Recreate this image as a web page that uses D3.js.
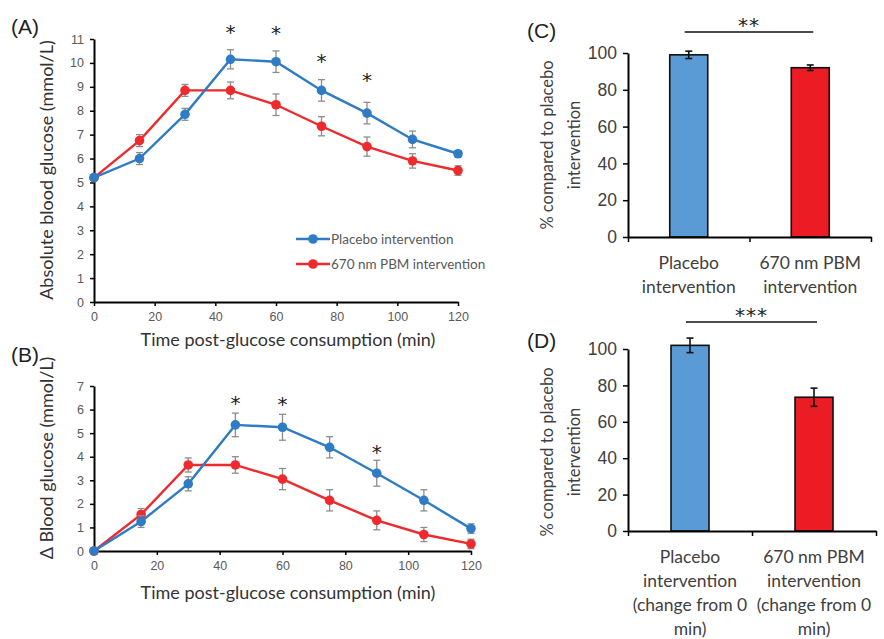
<!DOCTYPE html>
<html lang="en">
<head>
<meta charset="utf-8">
<title>Blood glucose</title>
<script src="https://cdn.jsdelivr.net/npm/d3@7"></script>
<style>
    body { margin: 0; background: #fff; }
    svg { font-family: Lato, "Open Sans", sans-serif; }
    .tick text { fill: #595959; }
    .bars .tick text { fill: #404040; }
</style>
</head>
<body>
<div id="chart"></div>
<script>
var WIDTH = 884;
var HEIGHT = 639;

// time points (min)
var times = [0, 15, 30, 45, 60, 75, 90, 105, 120];

// (A) absolute blood glucose
var absPlacebo = [5.2, 6.0, 7.85, 10.15, 10.05, 8.85, 7.9, 6.8, 6.2];
var absPlaceboErr = [0.1, 0.25, 0.25, 0.4, 0.45, 0.45, 0.45, 0.35, 0.12];
var absPbm = [5.2, 6.75, 8.85, 8.85, 8.25, 7.35, 6.5, 5.9, 5.5];
var absPbmErr = [0.1, 0.25, 0.25, 0.35, 0.45, 0.4, 0.4, 0.3, 0.2];
var absStars = [[45, 11.5], [60, 11.45], [75, 10.3], [90, 9.5]];

// (B) change from 0 min
var dPlacebo = [0, 1.25, 2.85, 5.35, 5.25, 4.4, 3.3, 2.15, 0.95];
var dPlaceboErr = [0, 0.25, 0.3, 0.5, 0.55, 0.45, 0.55, 0.45, 0.2];
var dPbm = [0, 1.55, 3.65, 3.65, 3.05, 2.15, 1.3, 0.7, 0.3];
var dPbmErr = [0, 0.25, 0.3, 0.35, 0.45, 0.45, 0.4, 0.3, 0.2];
var dStars = [[45, 6.5], [60, 6.45], [90, 4.4]];

// (C) and (D) bars
var barCats = ["placebo", "pbm"];
var cValues = [99, 92];
var cErr = [2, 1.5];
var cLabels = [["Placebo", "intervention"], ["670 nm PBM", "intervention"]];
var dValues = [102, 73.5];
var dErr = [4, 5];
var dLabels = [["Placebo", "intervention", "(change from 0", "min)"],
               ["670 nm PBM", "intervention", "(change from 0", "min)"]];

var seriesNames = ["Placebo intervention", "670 nm PBM intervention"];
var xTicks = [0, 20, 40, 60, 80, 100, 120];

var BLUE = "#2f7bc4";
var RED = "#ee2a2d";
var BAR_BLUE = "#5b9bd5";
var BAR_RED = "#ec1c24";
var STAR_FONT = "DejaVu Sans, sans-serif";

const svg = d3.select("#chart")
    .append("svg")
    .attr("width", WIDTH)
    .attr("height", HEIGHT);

function styleAxis(g) {
    g.selectAll(".domain").attr("stroke", "#000").attr("stroke-width", 2);
    g.selectAll(".tick line").attr("stroke", "#000").attr("stroke-width", 1.5);
}

function linePanel(opt) {
    var x = d3.scaleLinear().domain([0, 120]).range(opt.xr);
    var y = d3.scaleLinear().domain([0, opt.ymax]).range(opt.yr);
    var g = svg.append("g");

    var xa = g.append("g")
        .attr("transform", "translate(0," + opt.yr[0] + ")")
        .call(d3.axisBottom(x).tickValues(xTicks).tickSize(4).tickSizeOuter(0).tickPadding(6));
    xa.selectAll("text").attr("font-size", 12.5);
    styleAxis(xa);

    var ya = g.append("g")
        .attr("transform", "translate(" + opt.xr[0] + ",0)")
        .call(d3.axisLeft(y).ticks(opt.ymax).tickSize(4).tickSizeOuter(0).tickPadding(6));
    ya.selectAll("text").attr("font-size", 12.5);
    styleAxis(ya);

    g.append("text")
        .attr("x", 288).attr("y", opt.xTitleY)
        .attr("text-anchor", "middle")
        .attr("font-size", 18).attr("fill", "#333")
        .text("Time post-glucose consumption (min)");

    g.append("text")
        .attr("transform", "translate(53," + opt.yTitleMid + ") rotate(-90)")
        .attr("text-anchor", "middle")
        .attr("font-size", 18).attr("fill", "#333")
        .text(opt.yTitle);

    g.append("text")
        .attr("x", 11).attr("y", opt.labelY)
        .attr("font-family", "Liberation Sans, Arial, sans-serif")
        .attr("font-size", 21).attr("fill", "#222")
        .text(opt.label);

    var series = [
        { vals: opt.pbm, err: opt.pbmErr, color: RED },
        { vals: opt.placebo, err: opt.placeboErr, color: BLUE }
    ];
    var line = d3.line().x(function (d) { return x(d.t); }).y(function (d) { return y(d.v); });

    series.forEach(function (s) {
        var pts = times.map(function (t, i) { return { t: t, v: s.vals[i], e: s.err[i] }; });
        var eb = g.append("g").attr("stroke", "#8c8c8c").attr("stroke-width", 1.3);
        pts.forEach(function (p) {
            if (p.e <= 0) return;
            eb.append("line").attr("x1", x(p.t)).attr("x2", x(p.t))
                .attr("y1", y(p.v - p.e)).attr("y2", y(p.v + p.e));
            [p.v - p.e, p.v + p.e].forEach(function (v) {
                eb.append("line").attr("x1", x(p.t) - 3.5).attr("x2", x(p.t) + 3.5)
                    .attr("y1", y(v)).attr("y2", y(v));
            });
        });
        g.append("path").datum(pts)
            .attr("fill", "none").attr("stroke", s.color).attr("stroke-width", 2.4)
            .attr("d", line);
        g.selectAll(null).data(pts).enter().append("circle")
            .attr("cx", function (d) { return x(d.t); })
            .attr("cy", function (d) { return y(d.v); })
            .attr("r", 4.8).attr("fill", s.color);
    });

    g.selectAll(null).data(opt.stars).enter().append("text")
        .attr("x", function (d) { return x(d[0]); })
        .attr("y", function (d) { return y(d[1]) + 12; })
        .attr("text-anchor", "middle")
        .attr("font-family", STAR_FONT)
        .attr("font-size", 20).attr("fill", "#222")
        .text("*");
    return { x: x, y: y, g: g };
}

var A = linePanel({
    xr: [94, 458], yr: [302, 39], ymax: 11,
    placebo: absPlacebo, placeboErr: absPlaceboErr, pbm: absPbm, pbmErr: absPbmErr,
    stars: absStars, label: "(A)", labelY: 34, xTitleY: 346, yTitleMid: 170,
    yTitle: "Absolute blood glucose (mmol/L)"
});

var B = linePanel({
    xr: [94, 471], yr: [551, 386], ymax: 7,
    placebo: dPlacebo, placeboErr: dPlaceboErr, pbm: dPbm, pbmErr: dPbmErr,
    stars: dStars, label: "(B)", labelY: 362, xTitleY: 599, yTitleMid: 458,
    yTitle: "\u0394 Blood glucose (mmol/L)"
});

// legend in panel A
var leg = A.g.append("g");
[BLUE, RED].forEach(function (c, i) {
    var ly = 239 + i * 25;
    leg.append("line").attr("x1", 296).attr("x2", 330).attr("y1", ly).attr("y2", ly)
        .attr("stroke", c).attr("stroke-width", 2.4);
    leg.append("circle").attr("cx", 313).attr("cy", ly).attr("r", 4.8).attr("fill", c);
    leg.append("text").attr("x", 331).attr("y", ly + 4.5)
        .attr("font-size", 13.5).attr("fill", "#595959")
        .text(seriesNames[i]);
});

function barPanel(opt) {
    var g = svg.append("g").attr("class", "bars");
    var y = d3.scaleLinear().domain([0, 100]).range(opt.yr);
    var xb = d3.scaleBand().domain(barCats).range(opt.xr);
    var xt = d3.scaleLinear().domain([0, 2]).range(opt.xr);
    var bw = 38;

    g.selectAll(null).data(barCats).enter().append("rect")
        .attr("x", function (d) { return xb(d) + xb.bandwidth() / 2 - bw / 2; })
        .attr("y", function (d, i) { return y(opt.values[i]); })
        .attr("width", bw)
        .attr("height", function (d, i) { return y(0) - y(opt.values[i]); })
        .attr("fill", function (d, i) { return i ? BAR_RED : BAR_BLUE; })
        .attr("stroke", "#111").attr("stroke-width", 1.6);

    var eb = g.append("g").attr("stroke", "#111").attr("stroke-width", 1.6);
    barCats.forEach(function (d, i) {
        var cx = xb(d) + xb.bandwidth() / 2;
        var lo = y(opt.values[i] - opt.err[i]), hi = y(opt.values[i] + opt.err[i]);
        eb.append("line").attr("x1", cx).attr("x2", cx).attr("y1", lo).attr("y2", hi);
        eb.append("line").attr("x1", cx - 3.5).attr("x2", cx + 3.5).attr("y1", lo).attr("y2", lo);
        eb.append("line").attr("x1", cx - 3.5).attr("x2", cx + 3.5).attr("y1", hi).attr("y2", hi);
    });

    var ya = g.append("g")
        .attr("transform", "translate(" + opt.xr[0] + ",0)")
        .call(d3.axisLeft(y).tickValues([0, 20, 40, 60, 80, 100]).tickSize(5).tickSizeOuter(0).tickPadding(6));
    ya.selectAll("text").attr("font-size", 17.5);
    styleAxis(ya);

    var xa = g.append("g")
        .attr("transform", "translate(0," + opt.yr[0] + ")")
        .call(d3.axisBottom(xt).tickValues([0, 1, 2]).tickSize(5).tickSizeOuter(0).tickFormat(""));
    styleAxis(xa);

    barCats.forEach(function (d, i) {
        var cx = xb(d) + xb.bandwidth() / 2;
        var t = g.append("text")
            .attr("x", cx)
            .attr("y", opt.yr[0] + 32)
            .attr("text-anchor", "middle")
            .attr("font-size", 17.5).attr("fill", "#404040");
        opt.labels[i].forEach(function (s, k) {
            t.append("tspan").attr("x", cx).attr("dy", k ? 24 : 0).text(s);
        });
    });

    var yt = g.append("text")
        .attr("transform", "translate(553," + opt.yTitleMid + ") rotate(-90)")
        .attr("text-anchor", "middle")
        .attr("font-size", 16.5).attr("fill", "#404040");
    yt.append("tspan").attr("x", 0).attr("dy", 0).text("% compared to placebo");
    yt.append("tspan").attr("x", 0).attr("dy", 27).text("intervention");

    g.append("text")
        .attr("x", 527).attr("y", opt.labelY)
        .attr("font-family", "Liberation Sans, Arial, sans-serif")
        .attr("font-size", 21).attr("fill", "#222")
        .text(opt.label);

    // significance bar
    var c0 = xb(barCats[0]) + xb.bandwidth() / 2 - 4, c1 = xb(barCats[1]) + xb.bandwidth() / 2 + 3;
    g.append("line").attr("x1", c0).attr("x2", c1)
        .attr("y1", opt.sigY).attr("y2", opt.sigY)
        .attr("stroke", "#111").attr("stroke-width", 1.6);
    g.append("text").attr("x", (c0 + c1) / 2).attr("y", opt.sigY)
        .attr("text-anchor", "middle")
        .attr("font-family", STAR_FONT)
        .attr("font-size", 20).attr("fill", "#222")
        .attr("letter-spacing", 1)
        .text(opt.sig);
}

barPanel({
    xr: [628, 871], yr: [237, 53], values: cValues, err: cErr, labels: cLabels,
    yTitleMid: 145, label: "(C)", labelY: 38, sigY: 32, sig: "**"
});

barPanel({
    xr: [628, 876], yr: [531, 349], values: dValues, err: dErr, labels: dLabels,
    yTitleMid: 452, label: "(D)", labelY: 348, sigY: 322, sig: "***"
});
</script>
</body>
</html>
